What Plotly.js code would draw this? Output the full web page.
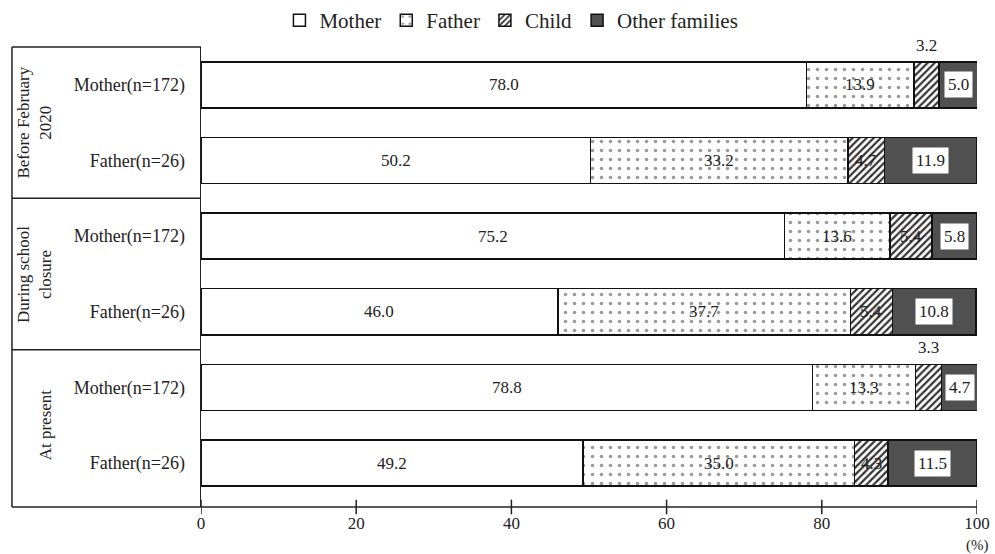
<!DOCTYPE html>
<html><head><meta charset="utf-8">
<script src="https://cdn.plot.ly/plotly-3.0.1.min.js"></script>
<style>body{margin:0;background:#fff}#c{width:995px;height:554px}</style>
</head><body><div id="c"></div>
<script>
const rowLabels = ["Mother(n=172)","Father(n=26)","Mother(n=172)","Father(n=26)","Mother(n=172)","Father(n=26)"];
const groupLabels = ["Before February<br>2020","During school<br>closure","At present"];
const seriesNames = ["Mother","Father","Child","Other families"];
const mother = [78.0, 50.2, 75.2, 46.0, 78.8, 49.2];
const father = [13.9, 33.2, 13.6, 37.7, 13.3, 35.0];
const child  = [3.2, 4.7, 5.4, 5.4, 3.3, 4.3];
const other  = [5.0, 11.9, 5.8, 10.8, 4.7, 11.5];
const xTicks = [0,20,40,60,80,100];

const F = "Liberation Serif, Times New Roman, serif";
const ypos = rowLabels.map((_, i) => i);
const series = [mother, father, child, other];
const fills = [
  {color:"#ffffff"},
  {color:"#ffffff", pattern:{shape:".", fgcolor:"#999", bgcolor:"#fff", size:9, solidity:0.12}},
  {color:"#ffffff", pattern:{shape:"/", fgcolor:"#333", bgcolor:"#fff", size:5, solidity:0.45}},
  {color:"#505050"}
];
const traces = series.map((vals, k) => ({
  type:"bar", orientation:"h", name:seriesNames[k], x:vals, y:ypos,
  width:0.61,
  marker:Object.assign({line:{color:"#111", width:1.5}}, fills[k]),
  hoverinfo:"skip"
}));

const ann = [];
ypos.forEach((yi, i) => {
  let cum = 0;
  series.forEach((vals, k) => {
    const v = vals[i];
    const c = cum + v/2;
    cum += v;
    const txt = v.toFixed(1);
    const font = {family:F, size:17, color:"#222"};
    if (k === 2 && v < 4) {
      ann.push({x:c, y:yi-0.305, xref:"x", yref:"y", text:txt, showarrow:false, yanchor:"bottom", yshift:5, font});
    } else if (k === 3) {
      ann.push({x:c, y:yi, xref:"x", yref:"y", text:txt, showarrow:false, bgcolor:"#fff", borderpad:3, font});
    } else {
      ann.push({x:c, y:yi, xref:"x", yref:"y", text:txt, showarrow:false, font});
    }
  });
});
// group labels (rotated)
const gx = [-0.214, -0.214, -0.201];
groupLabels.forEach((g, j) => {
  ann.push({x:gx[j], y:2*j+0.5, xref:"paper", yref:"y", text:g, showarrow:false, textangle:-90,
    xanchor:"center", yanchor:"middle", font:{family:F, size:17, color:"#222"}});
});
ann.push({x:1, y:-0.083, xref:"paper", yref:"paper", text:"(%)", showarrow:false, xanchor:"center", yanchor:"middle",
  font:{family:F, size:15, color:"#222"}});

const shapes = [];
const L = -0.2436;
const ln = {color:"#222", width:1.5};
shapes.push({type:"line", xref:"paper", yref:"paper", x0:L, x1:0, y0:1, y1:1, line:ln});
shapes.push({type:"line", xref:"paper", yref:"paper", x0:L, x1:L, y0:1, y1:0, line:ln});
[1.5, 3.5].forEach(b => shapes.push({type:"line", xref:"paper", yref:"y", x0:L, x1:0, y0:b, y1:b, line:ln}));
shapes.push({type:"line", xref:"paper", yref:"paper", x0:L, x1:1, y0:0, y1:0, line:ln});
xTicks.forEach(t => shapes.push({type:"line", xref:"x", yref:"paper", x0:t, x1:t, y0:-0.016, y1:0.016, line:ln}));

const layout = {
  width:995, height:554,
  margin:{l:201, r:18, t:47, b:47, autoexpand:false},
  paper_bgcolor:"#fff", plot_bgcolor:"#fff",
  barmode:"stack", bargap:0.39,
  showlegend:true,
  legend:{orientation:"h", traceorder:"normal", x:0.514, xref:"container", xanchor:"center",
    y:1.0, yref:"container", yanchor:"top", font:{family:F, size:21, color:"#222"},
    itemwidth:30, tracegroupgap:0, bgcolor:"rgba(0,0,0,0)"},
  xaxis:{range:[0,100], tickvals:xTicks, ticktext:xTicks.map(String), showgrid:false, zeroline:false,
    showline:false, ticks:"", ticklabelstandoff:4, tickfont:{family:F, size:17, color:"#222"}, fixedrange:true},
  yaxis:{range:[5.58,-0.5], tickvals:ypos, ticktext:rowLabels, showgrid:false, zeroline:false,
    showline:true, linecolor:"#222", linewidth:1.5, ticks:"", ticklabelstandoff:11,
    tickfont:{family:F, size:18, color:"#222"}, fixedrange:true},
  annotations:ann, shapes:shapes
};
Plotly.newPlot("c", traces, layout, {displayModeBar:false, staticPlot:true});
</script></body></html>
